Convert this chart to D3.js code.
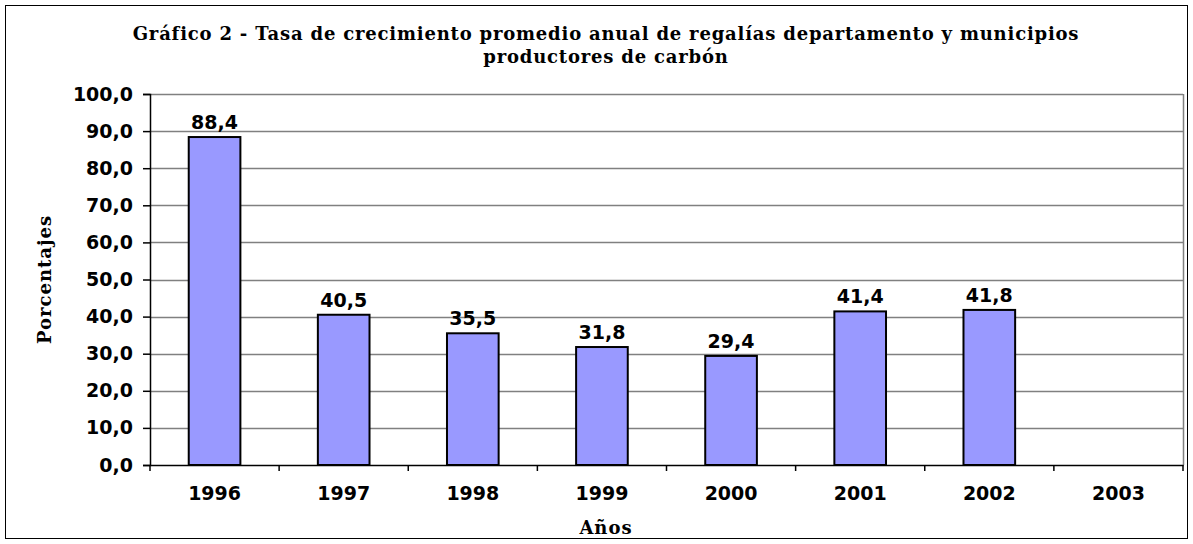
<!DOCTYPE html>
<html><head><meta charset="utf-8">
<script src="https://cdn.jsdelivr.net/npm/d3@7"></script>
<style>body{margin:0;background:#fff;} svg{display:block;}</style>
</head><body>
<svg id="c" width="1193" height="544"></svg>
<script>
const categories = ["1996","1997","1998","1999","2000","2001","2002","2003"];
const values = [88.4, 40.5, 35.5, 31.8, 29.4, 41.4, 41.8, null];
const yTicks = [0,10,20,30,40,50,60,70,80,90,100];
const titleLines = ["Gráfico 2 - Tasa de crecimiento promedio anual de regalías departamento y municipios","productores de carbón"];
const xTitle = "Años", yTitle = "Porcentajes";

const svg = d3.select("#c");
const m = {l:150, r:1183, t:94, b:465};
const fmt = v => d3.format(".1f")(v).replace(".", ",");
const sans = "'DejaVu Sans', Verdana, sans-serif";
const serif = "'DejaVu Serif', 'Bookman Old Style', serif";

svg.append("rect").attr("x",5.5).attr("y",5.5).attr("width",1182).attr("height",533)
  .attr("fill","#fff").attr("stroke","#000").attr("stroke-width",1);

const x = d3.scaleBand().domain(categories).range([m.l, m.r]).paddingInner(0).paddingOuter(0);
const y = d3.scaleLinear().domain([0,100]).range([m.b, m.t]);

// gridlines
svg.append("g").selectAll("line").data(yTicks.filter(d=>d>0)).join("line")
  .attr("x1",m.l).attr("x2",m.r).attr("y1",d=>Math.round(y(d))+0.5).attr("y2",d=>Math.round(y(d))+0.5)
  .attr("stroke","#808080").attr("stroke-width",1.5);
svg.append("line").attr("x1",m.r+0.5).attr("x2",m.r+0.5).attr("y1",m.t).attr("y2",m.b)
  .attr("stroke","#808080").attr("stroke-width",1.5);

// bars
const data = categories.map((c,i)=>({c,v:values[i]})).filter(d=>d.v!=null);
const bw = x.bandwidth()*0.4;
svg.append("g").selectAll("rect").data(data).join("rect")
  .attr("x",d=>x(d.c)+(x.bandwidth()-bw)/2).attr("width",bw)
  .attr("y",d=>y(d.v)).attr("height",d=>y(0)-y(d.v))
  .attr("fill","#9999FF").attr("stroke","#000").attr("stroke-width",2);

// value labels
svg.append("g").selectAll("text").data(data).join("text")
  .attr("x",d=>x(d.c)+x.bandwidth()/2).attr("y",d=>y(d.v)-8)
  .attr("text-anchor","middle").attr("font-family",sans).attr("font-weight","bold").attr("font-size",19)
  .text(d=>fmt(d.v));

// y axis
const ya = svg.append("g").attr("transform",`translate(${m.l},0)`)
  .call(d3.axisLeft(y).tickValues(yTicks).tickFormat(fmt).tickSize(7).tickPadding(10));
ya.select(".domain").attr("stroke","#000").attr("stroke-width",1.5);
ya.selectAll(".tick line").attr("stroke","#000").attr("stroke-width",1.5);
ya.selectAll("text").attr("font-family",sans).attr("font-weight","bold").attr("font-size",19).attr("fill","#000");

// x axis
const xa = svg.append("g").attr("transform",`translate(0,${m.b})`)
  .call(d3.axisBottom(x).tickSize(0).tickPadding(22));
xa.select(".domain").attr("stroke","#000").attr("stroke-width",1.5);
xa.selectAll("text").attr("font-family",sans).attr("font-weight","bold").attr("font-size",19).attr("fill","#000");
svg.append("g").selectAll("line").data(d3.range(categories.length+1)).join("line")
  .attr("x1",i=>m.l+i*x.step()).attr("x2",i=>m.l+i*x.step())
  .attr("y1",m.b).attr("y2",m.b+6).attr("stroke","#000").attr("stroke-width",1.5);

// titles
svg.append("g").selectAll("text").data(titleLines).join("text")
  .attr("x",606).attr("y",(d,i)=>40+i*23).attr("text-anchor","middle")
  .attr("font-family",serif).attr("font-weight","bold").attr("font-size",18).attr("letter-spacing",0.8).text(d=>d);
svg.append("text").attr("x",606).attr("y",534).attr("text-anchor","middle")
  .attr("font-family",serif).attr("font-weight","bold").attr("font-size",18).attr("letter-spacing",1).text(xTitle);
svg.append("text").attr("transform",`translate(51,${(m.t+m.b)/2}) rotate(-90)`).attr("text-anchor","middle")
  .attr("font-family",serif).attr("font-weight","bold").attr("font-size",18).attr("letter-spacing",1).text(yTitle);
</script>
</body></html>
